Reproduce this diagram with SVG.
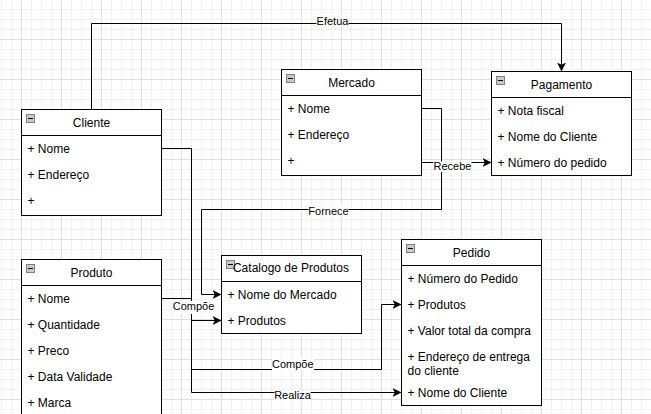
<svg xmlns="http://www.w3.org/2000/svg" width="651" height="414" viewBox="0 0 651 414">
<defs>
<pattern id="minor" x="21" y="39" width="10" height="10" patternUnits="userSpaceOnUse">
<path d="M0,0.5H10M0.5,0V10" stroke="#f1f1f1" stroke-width="1" fill="none"/>
</pattern>
<pattern id="major" x="21" y="39" width="40" height="40" patternUnits="userSpaceOnUse">
<path d="M0,0.5H40M0.5,0V40" stroke="#e0e0e0" stroke-width="1" fill="none"/>
</pattern>
<marker id="arr" markerUnits="userSpaceOnUse" markerWidth="9" markerHeight="9" refX="8" refY="4" orient="auto" viewBox="0 0 8 8">
<path d="M0,0L8,4L0,8L2,4Z" fill="#000"/>
</marker>
<g id="icon"><rect x="0.5" y="0.5" width="8" height="8" fill="#c8cad2" stroke="#7c7e88"/><path d="M2,4.5H7" stroke="#000" stroke-width="1"/></g>
</defs>
<style>
text{font-family:"Liberation Sans",Arial,Helvetica,sans-serif;fill:#000}
.t{font-size:12px;text-anchor:middle}
.a{font-size:12px}
.l{font-size:11px;text-anchor:middle}
.box{fill:#fff;stroke:#000;stroke-width:1}
.edge{fill:none;stroke:#000;stroke-width:1}
.lbg{fill:#fff}
</style>
<rect width="651" height="414" fill="#fff"/>
<rect width="651" height="414" fill="url(#minor)"/>
<rect width="651" height="414" fill="url(#major)"/>

<g id="connectors">
<path class="edge" d="M91.5,109.5V23.5H561.5V71.5" marker-end="url(#arr)"/>
<path class="edge" d="M421.5,162.5H491.5" marker-end="url(#arr)"/>
<path class="edge" d="M421.5,108.5H441.5V209.5H201.5V294.5H221.5" marker-end="url(#arr)"/>
<path class="edge" d="M161.5,148.5H191.5V392.5H401.5" marker-end="url(#arr)"/>
<path class="edge" d="M161.5,298.5H191.5V320.5H221.5" marker-end="url(#arr)"/>
<path class="edge" d="M191.5,320.5V369.5H381.5V304.5H401.5" marker-end="url(#arr)"/>
<rect class="lbg" x="316.5" y="15.5" width="32" height="12"/>
<text class="l" x="332.5" y="25">Efetua</text>
<rect class="lbg" x="433.5" y="161.5" width="38" height="10.5"/>
<text class="l" x="452.5" y="169.7">Recebe</text>
<rect class="lbg" x="308.5" y="205" width="40" height="11.5"/>
<text class="l" x="328.5" y="214.7">Fornece</text>
<rect class="lbg" x="172.5" y="301" width="42" height="13"/>
<text class="l" x="193.5" y="310">Compõe</text>
<rect class="lbg" x="272" y="358" width="42" height="12"/>
<text class="l" x="292.8" y="367.7">Compõe</text>
<rect class="lbg" x="274.5" y="390" width="36" height="11"/>
<text class="l" x="292.5" y="399.3">Realiza</text>
</g>

<g id="cliente">
<rect class="box" x="21.5" y="109.5" width="140" height="106"/>
<path class="edge" d="M21.5,135.5H161.5"/>
<use href="#icon" x="26" y="114"/>
<text class="t" x="91.5" y="126.5">Cliente</text>
<text class="a" x="27.5" y="152.5">+ Nome</text>
<text class="a" x="27.5" y="178.5">+ Endereço</text>
<text class="a" x="27.5" y="204.5">+</text>
</g>

<g id="mercado">
<rect class="box" x="281.5" y="69.5" width="140" height="106"/>
<path class="edge" d="M281.5,95.5H421.5"/>
<use href="#icon" x="286" y="74"/>
<text class="t" x="351.5" y="86.5">Mercado</text>
<text class="a" x="287.5" y="112.5">+ Nome</text>
<text class="a" x="287.5" y="138.5">+ Endereço</text>
<text class="a" x="287.5" y="164.5">+</text>
</g>

<g id="pagamento">
<rect class="box" x="491.5" y="71.5" width="140" height="104"/>
<path class="edge" d="M491.5,97.5H631.5"/>
<use href="#icon" x="496" y="76"/>
<text class="t" x="561.5" y="88.5">Pagamento</text>
<text class="a" x="497.5" y="114.5">+ Nota fiscal</text>
<text class="a" x="497.5" y="140.5">+ Nome do Cliente</text>
<text class="a" x="497.5" y="166.5">+ Número do pedido</text>
</g>

<g id="produto">
<rect class="box" x="21.5" y="259.5" width="140" height="170"/>
<path class="edge" d="M21.5,285.5H161.5"/>
<use href="#icon" x="26" y="264"/>
<text class="t" x="91.5" y="276.5">Produto</text>
<text class="a" x="27.5" y="302.5">+ Nome</text>
<text class="a" x="27.5" y="328.5">+ Quantidade</text>
<text class="a" x="27.5" y="354.5">+ Preco</text>
<text class="a" x="27.5" y="380.5">+ Data Validade</text>
<text class="a" x="27.5" y="406.5">+ Marca</text>
</g>

<g id="catalogo">
<rect class="box" x="221.5" y="255.5" width="140" height="78"/>
<path class="edge" d="M221.5,281.5H361.5"/>
<use href="#icon" x="226" y="260"/>
<text class="t" x="291" y="272">Catalogo de Produtos</text>
<text class="a" x="227.5" y="298.5">+ Nome do Mercado</text>
<text class="a" x="227.5" y="324.5">+ Produtos</text>
</g>

<g id="pedido">
<rect class="box" x="401.5" y="239.5" width="140" height="166"/>
<path class="edge" d="M401.5,265.5H541.5"/>
<use href="#icon" x="406" y="244"/>
<text class="t" x="471.5" y="256.5">Pedido</text>
<text class="a" x="407.5" y="282.5">+ Número do Pedido</text>
<text class="a" x="407.5" y="308.5">+ Produtos</text>
<text class="a" x="407.5" y="334.5">+ Valor total da compra</text>
<text class="a" x="407.5" y="361">+ Endereço de entrega</text>
<text class="a" x="407.5" y="374.5">do cliente</text>
<text class="a" x="407.5" y="396.5">+ Nome do Cliente</text>
</g>
</svg>
